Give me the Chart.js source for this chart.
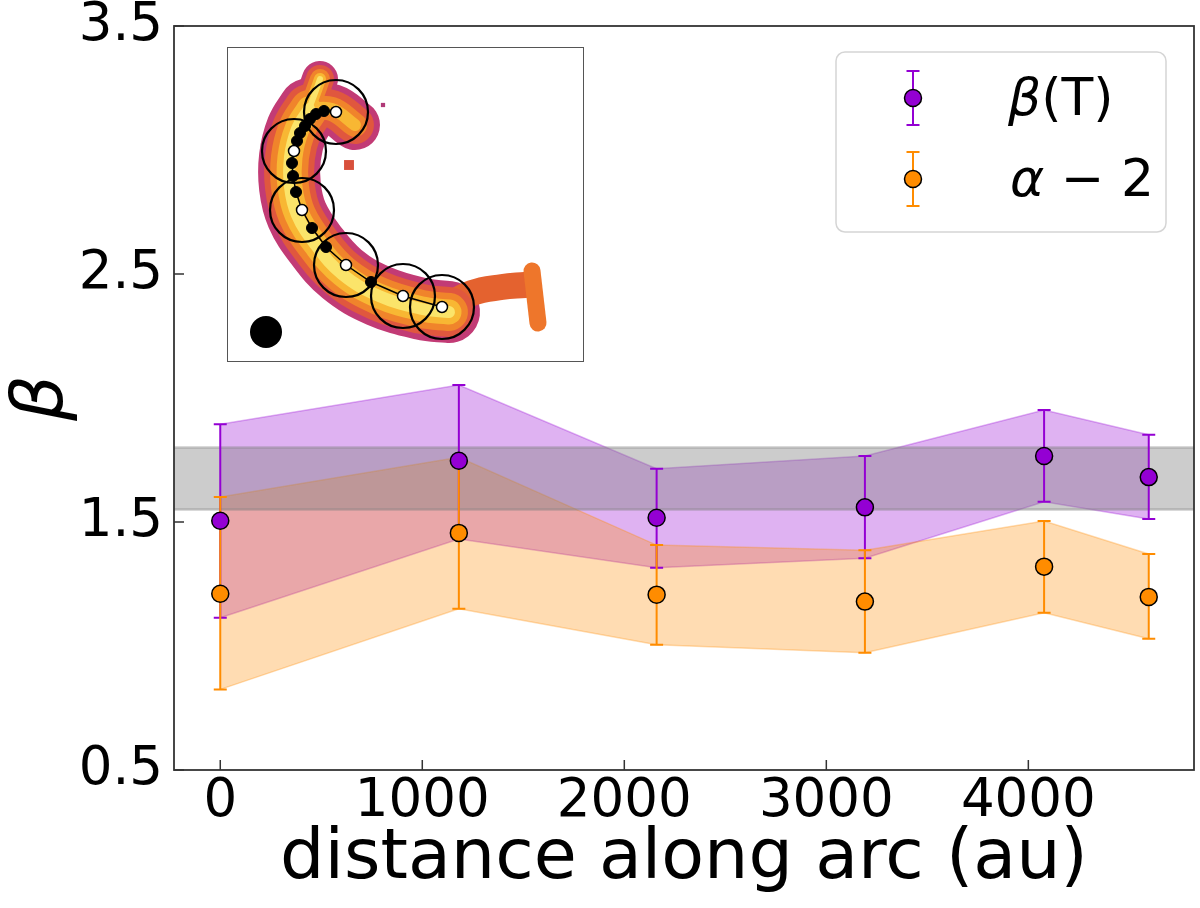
<!DOCTYPE html>
<html>
<head>
<meta charset="utf-8">
<title>beta along arc</title>
<script src="https://cdn.jsdelivr.net/npm/chart.js@4.4.0/dist/chart.umd.min.js"></script>
<style>
    html, body { margin: 0; padding: 0; background: #fff; }
    #wrap { position: relative; width: 1200px; height: 908px; }
    #inset { position: absolute; left: 227px; top: 47px; width: 357px; height: 315px;
             border: 1px solid #555; box-sizing: border-box; background: #fff; }
    #inset canvas { display: block; }
</style>
</head>
<body>
<div id="wrap">
    <canvas id="grafico" width="1200" height="908"></canvas>
    <div id="inset"><canvas id="graficoInset" width="355" height="313"></canvas></div>
</div>
<script>
// ========== DADOS ==========
const distance = [0, 1181, 2160, 3191, 4078, 4596];
const betaT = [1.505, 1.747, 1.517, 1.559, 1.766, 1.681];
const betaTLow = [1.114, 1.431, 1.316, 1.354, 1.582, 1.512];
const betaTHigh = [1.894, 2.052, 1.715, 1.766, 1.952, 1.852];
const alphaMinus2 = [1.211, 1.456, 1.207, 1.179, 1.320, 1.198];
const alphaLow = [0.825, 1.150, 1.005, 0.973, 1.134, 1.029];
const alphaHigh = [1.601, 1.761, 1.407, 1.386, 1.504, 1.371];
const refBand = [1.55, 1.80];
const xTicks = [0, 1000, 2000, 3000, 4000];
const yTicks = [0.5, 1.5, 2.5, 3.5];
const seriesLabels = ['β(T)', 'α − 2'];

// inset map (pixel units of the inset box)
const arcX = [82, 70, 63, 63, 70, 88, 115, 152, 195, 222];
const arcY = [62, 82, 110, 140, 168, 197, 227, 249, 262, 265];
const tipX = [93, 88, 82];
const tipY = [32, 46, 62];
const arcBranchX = [80, 105, 128];
const arcBranchY = [62, 62, 78];
const tailX = [215, 245, 275, 298];
const tailY = [262, 246, 240, 238];
const spurX = [305, 311];
const spurY = [224, 276];
const blobX = [122, 156];
const blobY = [118, 58];
const trackX = [109, 97, 89, 83, 78, 73, 70, 67, 65, 66, 69, 75, 85, 99, 119, 144, 176, 215];
const trackY = [65, 64, 67, 72, 79, 86, 94, 104, 116, 129, 145, 163, 181, 200, 218, 235, 249, 260];
const knotX = [97, 89, 83, 78, 73, 70, 65, 66, 69, 85, 99, 144];
const knotY = [64, 67, 72, 79, 86, 94, 116, 129, 145, 181, 200, 235];
const apertureX = [109, 67, 75, 119, 176, 215];
const apertureY = [65, 104, 163, 218, 249, 260];
const beamX = [39];
const beamY = [285];

const FONT = 'DejaVu Sans';
const purple = '#9400d3', orange = '#ff8c00';
const purpleFill = 'rgba(148,0,211,0.3)', orangeFill = 'rgba(255,140,0,0.3)';

const toXY = (xs, ys) => xs.map((x, i) => ({ x: x, y: ys[i] }));

// ========== GRÁFICO PRINCIPAL ==========
function bandLine(ys, color, fill) {
    return {
        data: toXY(distance, ys), showLine: true, pointRadius: 0, borderWidth: 1.5,
        borderColor: color, backgroundColor: color, fill: fill, tension: 0
    };
}
function pointSet(ys, color, label) {
    return {
        label: label, data: toXY(distance, ys), showLine: false, pointRadius: 8.5,
        pointBackgroundColor: color, pointBorderColor: '#000', pointBorderWidth: 1.5
    };
}

const mainSets = [
    bandLine(betaTHigh, purpleFill, '+1'),
    bandLine(betaTLow, purpleFill, false),
    bandLine(alphaHigh, orangeFill, '+1'),
    bandLine(alphaLow, orangeFill, false),
    pointSet(betaT, purple, seriesLabels[0]),
    pointSet(alphaMinus2, orange, seriesLabels[1])
];
// first in the list is painted first
mainSets.forEach((ds, i) => { ds.order = mainSets.length - i; });

function drawErrorBars(ctx, x, y, lo, hi, color) {
    ctx.save();
    ctx.strokeStyle = color;
    ctx.lineWidth = 2;
    distance.forEach((d, i) => {
        const px = x.getPixelForValue(d);
        const pl = y.getPixelForValue(lo[i]), ph = y.getPixelForValue(hi[i]);
        ctx.beginPath();
        ctx.moveTo(px, pl); ctx.lineTo(px, ph);
        ctx.moveTo(px - 6.5, pl); ctx.lineTo(px + 6.5, pl);
        ctx.moveTo(px - 6.5, ph); ctx.lineTo(px + 6.5, ph);
        ctx.stroke();
    });
    ctx.restore();
}

function legendGlyph(ctx, cx, cy, color) {
    ctx.strokeStyle = color;
    ctx.lineWidth = 2;
    ctx.beginPath();
    ctx.moveTo(cx, cy - 27); ctx.lineTo(cx, cy + 27);
    ctx.moveTo(cx - 6.5, cy - 27); ctx.lineTo(cx + 6.5, cy - 27);
    ctx.moveTo(cx - 6.5, cy + 27); ctx.lineTo(cx + 6.5, cy + 27);
    ctx.stroke();
    ctx.beginPath();
    ctx.arc(cx, cy, 8.5, 0, Math.PI * 2);
    ctx.fillStyle = color; ctx.fill();
    ctx.lineWidth = 1.5; ctx.strokeStyle = '#000'; ctx.stroke();
}

const decorPlugin = {
    id: 'decor',
    beforeDatasetDraw(chart, args) {
        if (args.index !== 4) return;
        const { ctx, chartArea: a, scales: { x, y } } = chart;
        // faixa de referência
        const yt = y.getPixelForValue(refBand[1]), yb = y.getPixelForValue(refBand[0]);
        ctx.save();
        ctx.fillStyle = 'rgba(128,128,128,0.4)';
        ctx.fillRect(a.left, yt, a.right - a.left, yb - yt);
        ctx.strokeStyle = 'rgba(128,128,128,0.4)';
        ctx.lineWidth = 2.5;
        ctx.beginPath();
        ctx.moveTo(a.left, yt); ctx.lineTo(a.right, yt);
        ctx.moveTo(a.left, yb); ctx.lineTo(a.right, yb);
        ctx.stroke();
        ctx.restore();
        drawErrorBars(ctx, x, y, betaTLow, betaTHigh, purple);
        drawErrorBars(ctx, x, y, alphaLow, alphaHigh, orange);
    },
    afterDraw(chart) {
        const { ctx, chartArea: a, scales: { x, y } } = chart;
        ctx.save();
        // moldura e ticks para dentro
        ctx.strokeStyle = '#333';
        ctx.lineWidth = 1.8;
        ctx.strokeRect(a.left, a.top, a.right - a.left, a.bottom - a.top);
        ctx.lineWidth = 1.5;
        ctx.beginPath();
        xTicks.forEach(v => {
            const px = x.getPixelForValue(v);
            ctx.moveTo(px, a.bottom); ctx.lineTo(px, a.bottom - 10);
        });
        yTicks.forEach(v => {
            const py = y.getPixelForValue(v);
            ctx.moveTo(a.left, py); ctx.lineTo(a.left + 10, py);
        });
        ctx.stroke();

        // legenda
        const lx = 836, ly = 52, lw = 330, lh = 180, r = 9;
        ctx.beginPath();
        ctx.roundRect(lx, ly, lw, lh, r);
        ctx.fillStyle = 'rgba(255,255,255,0.8)';
        ctx.fill();
        ctx.strokeStyle = '#d5d5d5';
        ctx.lineWidth = 1.5;
        ctx.stroke();

        legendGlyph(ctx, 913, 98, purple);
        legendGlyph(ctx, 913, 179, orange);

        ctx.fillStyle = '#000';
        ctx.textBaseline = 'middle';
        ctx.textAlign = 'left';
        const italic = 'italic 52px "' + FONT + '"', normal = '52px "' + FONT + '"';
        // β(T)
        ctx.font = italic;
        ctx.fillText(seriesLabels[0].charAt(0), 1008, 101);
        let w = ctx.measureText(seriesLabels[0].charAt(0)).width;
        ctx.font = normal;
        ctx.fillText(seriesLabels[0].slice(1), 1008 + w, 101);
        // α − 2
        ctx.font = italic;
        ctx.fillText(seriesLabels[1].charAt(0), 1010, 182);
        w = ctx.measureText(seriesLabels[1].charAt(0)).width;
        ctx.font = normal;
        ctx.fillText(seriesLabels[1].slice(1), 1010 + w, 182);
        ctx.restore();
    }
};

new Chart(document.getElementById('grafico'), {
    type: 'scatter',
    data: { datasets: mainSets },
    options: {
        responsive: false,
        animation: false,
        devicePixelRatio: 1,
        layout: { autoPadding: false, padding: { left: 0, right: 6, top: 26, bottom: 0 } },
        plugins: { legend: { display: false }, tooltip: { enabled: false } },
        scales: {
            x: {
                type: 'linear', min: -229, max: 4820,
                afterBuildTicks: s => { s.ticks = xTicks.map(v => ({ value: v })); },
                afterFit: s => { s.height = 138; s.paddingLeft = 0; s.paddingRight = 0; },
                grid: { display: false, drawTicks: false },
                border: { display: false },
                ticks: { color: '#000', font: { family: FONT, size: 53 }, padding: 0, maxRotation: 0, autoSkip: false,
                         callback: v => String(v) },
                title: { display: true, text: 'distance along arc (au)', color: '#000',
                         font: { family: FONT, size: 70 }, padding: { top: 0, bottom: 6 } }
            },
            y: {
                type: 'linear', min: 0.5, max: 3.5,
                afterBuildTicks: s => { s.ticks = yTicks.map(v => ({ value: v })); },
                afterFit: s => { s.width = 174; s.paddingTop = 0; s.paddingBottom = 0; },
                grid: { display: false, drawTicks: false },
                border: { display: false },
                ticks: { color: '#000', font: { family: FONT, size: 53 }, padding: 11,
                         callback: v => v.toFixed(1) },
                title: { display: true, text: 'β', color: '#000',
                         font: { family: FONT, size: 72, style: 'italic' }, padding: { top: 0, bottom: 0 } }
            }
        }
    },
    plugins: [decorPlugin]
});

// ========== MAPA (INSET) ==========
function thickLine(xs, ys, color, width) {
    return {
        data: toXY(xs, ys), showLine: true, pointRadius: 0, borderColor: color, borderWidth: width,
        borderCapStyle: 'round', borderJoinStyle: 'round', tension: 0.4, fill: false, clip: false
    };
}
const layerColors = ['#c23b75', '#e0573e', '#f0842b', '#f8b733', '#fbe46a'];
const layerWidths = [62, 50, 38, 25, 12];
const tipWidths = [36, 28, 20, 12, 6];
const branchWidths = [50, 38, 24, 12, 0];

const insetSets = [];
layerColors.forEach((c, i) => {
    insetSets.push(thickLine(arcX, arcY, c, layerWidths[i]));
    insetSets.push(thickLine(tipX, tipY, c, tipWidths[i]));
    if (branchWidths[i] > 0) insetSets.push(thickLine(arcBranchX, arcBranchY, c, branchWidths[i]));
});
insetSets.splice(1, 0, thickLine(tailX, tailY, '#e4622f', 26), thickLine(spurX, spurY, '#ee762b', 17));
insetSets.push(
    { data: toXY(blobX, blobY), showLine: false, pointStyle: 'rect', pointRadius: [7, 3],
      pointBackgroundColor: ['#d8503c', '#b03a78'], pointBorderWidth: 0 },
    { data: toXY(apertureX, apertureY), showLine: false, pointRadius: 32,
      pointBackgroundColor: 'rgba(0,0,0,0)', pointBorderColor: '#000', pointBorderWidth: 2.2 },
    { data: toXY(trackX, trackY), showLine: true, pointRadius: 0, borderColor: '#000', borderWidth: 1.5, tension: 0 },
    { data: toXY(knotX, knotY), showLine: false, pointRadius: 5.5,
      pointBackgroundColor: '#000', pointBorderColor: '#000', pointBorderWidth: 1 },
    { data: toXY(apertureX, apertureY), showLine: false, pointRadius: 5.5,
      pointBackgroundColor: '#fff', pointBorderColor: '#000', pointBorderWidth: 1.5 },
    { data: toXY(beamX, beamY), showLine: false, pointRadius: 16,
      pointBackgroundColor: '#000', pointBorderWidth: 0 }
);
insetSets.forEach((ds, i) => { ds.order = insetSets.length - i; });

new Chart(document.getElementById('graficoInset'), {
    type: 'scatter',
    data: { datasets: insetSets },
    options: {
        responsive: false,
        animation: false,
        devicePixelRatio: 1,
        layout: { autoPadding: false, padding: 0 },
        plugins: { legend: { display: false }, tooltip: { enabled: false } },
        scales: {
            x: { type: 'linear', min: 1, max: 356, display: false },
            y: { type: 'linear', min: 1, max: 314, reverse: true, display: false }
        }
    }
});
</script>
</body>
</html>
